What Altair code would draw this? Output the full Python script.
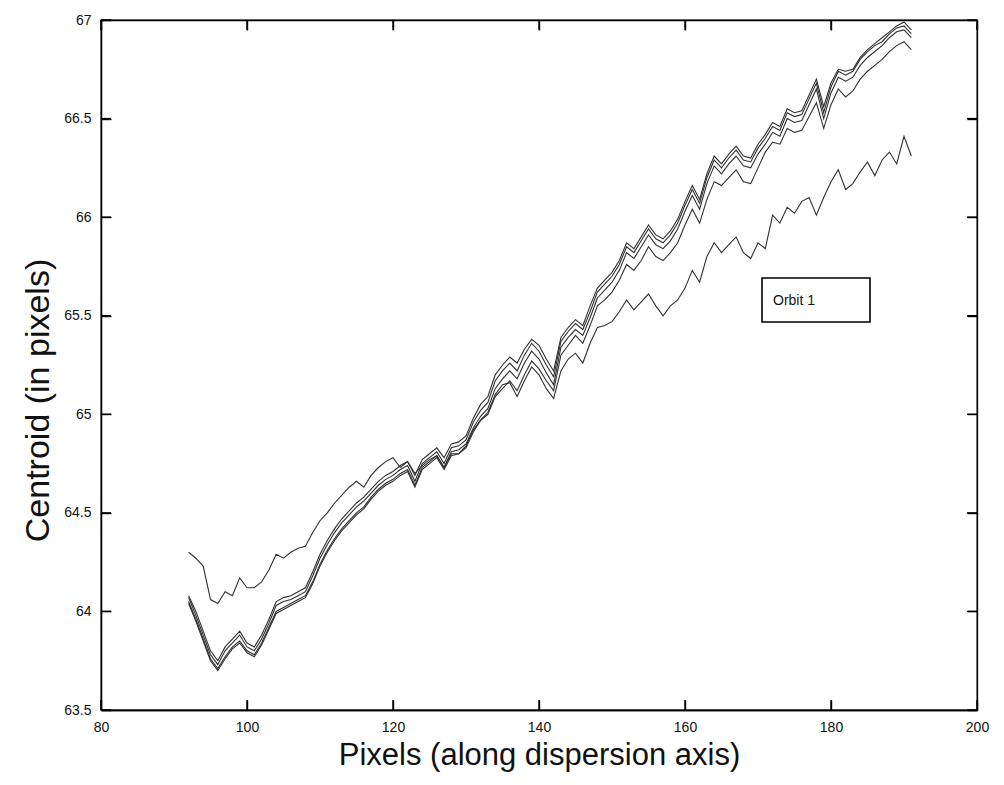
import altair as alt
import pandas as pd

x_vals = list(range(92, 192))

line_top = [
    64.08, 64.00, 63.90, 63.80, 63.75, 63.82, 63.86, 63.90, 63.84, 63.82,
    63.88, 63.96, 64.05, 64.07, 64.08, 64.10, 64.12, 64.20, 64.29, 64.36,
    64.42, 64.47, 64.51, 64.55, 64.58, 64.62, 64.66, 64.69, 64.71, 64.74,
    64.76, 64.69, 64.77, 64.80, 64.83, 64.78, 64.85, 64.86, 64.89, 64.98,
    65.05, 65.09, 65.20, 65.25, 65.29, 65.26, 65.33, 65.38, 65.35, 65.28,
    65.22, 65.39, 65.44, 65.48, 65.45, 65.55, 65.64, 65.68, 65.72, 65.78,
    65.87, 65.84, 65.90, 65.96, 65.91, 65.89, 65.93, 65.99, 66.08, 66.16,
    66.09, 66.22, 66.31, 66.27, 66.32, 66.36, 66.31, 66.30, 66.37, 66.42,
    66.48, 66.46, 66.55, 66.53, 66.54, 66.62, 66.70, 66.56, 66.68, 66.75,
    66.74, 66.75, 66.81, 66.85, 66.88, 66.91, 66.94, 66.97, 66.99, 66.95,
]

line_mid = [
    64.07, 63.98, 63.88, 63.78, 63.73, 63.80, 63.84, 63.88, 63.82, 63.80,
    63.86, 63.94, 64.03, 64.05, 64.06, 64.08, 64.10, 64.18, 64.27, 64.34,
    64.40, 64.45, 64.49, 64.53, 64.56, 64.60, 64.64, 64.67, 64.69, 64.72,
    64.74, 64.66, 64.75, 64.78, 64.81, 64.75, 64.83, 64.84, 64.87, 64.96,
    65.02, 65.06, 65.17, 65.22, 65.26, 65.22, 65.30, 65.36, 65.32, 65.25,
    65.19, 65.37, 65.42, 65.46, 65.43, 65.52, 65.62, 65.66, 65.70, 65.76,
    65.85, 65.82, 65.88, 65.94, 65.89, 65.87, 65.91, 65.97, 66.06, 66.14,
    66.07, 66.20, 66.29, 66.25, 66.30, 66.34, 66.29, 66.28, 66.35, 66.40,
    66.46, 66.44, 66.53, 66.51, 66.52, 66.60, 66.68, 66.53, 66.66, 66.74,
    66.72, 66.74, 66.80, 66.84, 66.87, 66.89, 66.93, 66.96, 66.97, 66.93,
]

line_low = [
    64.05, 63.96, 63.86, 63.76, 63.71, 63.77, 63.82, 63.85, 63.80, 63.78,
    63.84, 63.92, 64.00, 64.02, 64.04, 64.06, 64.08, 64.15, 64.24, 64.31,
    64.37, 64.42, 64.46, 64.50, 64.53, 64.58, 64.62, 64.65, 64.67, 64.70,
    64.72, 64.64, 64.73, 64.76, 64.79, 64.73, 64.81, 64.82, 64.85, 64.93,
    64.99, 65.03, 65.13, 65.18, 65.22, 65.18, 65.26, 65.32, 65.28, 65.21,
    65.15, 65.34, 65.39, 65.43, 65.40, 65.49, 65.59, 65.63, 65.67, 65.73,
    65.82, 65.79, 65.85, 65.91, 65.86, 65.84, 65.88, 65.94, 66.03, 66.11,
    66.04, 66.17, 66.26, 66.22, 66.27, 66.31, 66.26, 66.25, 66.32, 66.37,
    66.43, 66.41, 66.50, 66.48, 66.49, 66.57, 66.65, 66.50, 66.63, 66.71,
    66.69, 66.71, 66.77, 66.81, 66.84, 66.87, 66.91, 66.94, 66.95, 66.91,
]

line_div = [
    64.04, 63.95, 63.85, 63.75, 63.70, 63.76, 63.81, 63.84, 63.79, 63.77,
    63.83, 63.91, 63.99, 64.01, 64.03, 64.05, 64.07, 64.14, 64.23, 64.30,
    64.36, 64.41, 64.45, 64.49, 64.52, 64.57, 64.61, 64.64, 64.66, 64.69,
    64.71, 64.63, 64.72, 64.75, 64.78, 64.72, 64.79, 64.80, 64.83, 64.91,
    64.97, 65.00, 65.09, 65.13, 65.17, 65.12, 65.20, 65.27, 65.23, 65.17,
    65.12, 65.30, 65.35, 65.40, 65.36, 65.45, 65.55, 65.58, 65.62, 65.68,
    65.76, 65.73, 65.78, 65.85, 65.80, 65.78, 65.82, 65.87, 65.96, 66.04,
    65.97, 66.09, 66.18, 66.16, 66.20, 66.24, 66.18, 66.17, 66.25, 66.33,
    66.38, 66.37, 66.45, 66.43, 66.44, 66.51, 66.58, 66.45, 66.57, 66.65,
    66.61, 66.64, 66.70, 66.74, 66.77, 66.80, 66.84, 66.87, 66.89, 66.85,
]

line_out = [
    64.30, 64.27, 64.23, 64.06, 64.04, 64.10, 64.08, 64.17, 64.12, 64.12,
    64.15, 64.21, 64.29, 64.27, 64.30, 64.32, 64.33, 64.40, 64.46, 64.50,
    64.55, 64.59, 64.63, 64.66, 64.63, 64.69, 64.73, 64.76, 64.78, 64.73,
    64.76, 64.70, 64.74, 64.77, 64.79, 64.73, 64.80, 64.80, 64.84, 64.92,
    64.97, 65.01, 65.10, 65.15, 65.16, 65.09, 65.17, 65.24, 65.20, 65.13,
    65.08, 65.22, 65.28, 65.31, 65.26, 65.36, 65.44, 65.45, 65.47, 65.52,
    65.58, 65.53, 65.57, 65.61, 65.55, 65.50, 65.55, 65.58, 65.64, 65.73,
    65.67, 65.80, 65.87, 65.82, 65.86, 65.90, 65.82, 65.79, 65.87, 65.84,
    66.01, 65.97, 66.05, 66.02, 66.08, 66.10, 66.01, 66.10, 66.18, 66.24,
    66.14, 66.17, 66.23, 66.28, 66.21, 66.29, 66.33, 66.27, 66.41, 66.31,
]

series_names = ["s1", "s2", "s3", "s4", "s5"]
series_values = [line_top, line_mid, line_low, line_div, line_out]

x_ticks = [80, 100, 120, 140, 160, 180, 200]
y_ticks = [63.5, 64, 64.5, 65, 65.5, 66, 66.5, 67]
legend_labels = ["Orbit 1"]

rows = []
for name, vals in zip(series_names, series_values):
    for xv, yv in zip(x_vals, vals):
        rows.append({"series": name, "x": xv, "y": yv})
df = pd.DataFrame(rows)

W, H = 876, 690
FONT = "Liberation Sans"
TICK = 10

xs = alt.Scale(domain=[80, 200], nice=False, zero=False)
ys = alt.Scale(domain=[63.5, 67], nice=False, zero=False)

# main axes: labels, titles and the left/bottom frame lines
x_axis = alt.Axis(
    orient="bottom", values=x_ticks, title="Pixels (along dispersion axis)",
    ticks=False, grid=False, labelPadding=10, titlePadding=6, labelFlush=False,
    labelOverlap=False, titleFontSize=31)
y_axis = alt.Axis(
    orient="left", values=y_ticks, format=".1~f", title="Centroid (in pixels)",
    ticks=False, grid=False, labelPadding=10, titlePadding=8, labelFlush=False,
    labelOverlap=False, titleFontSize=34, titleY=380)


def tick_axis(orient, offset, values):
    # an unlabeled axis moved onto the opposite frame edge so that its ticks point inward
    return alt.Axis(orient=orient, offset=offset, values=values, labels=False,
                    title=None, grid=False, domain=True, ticks=True,
                    tickSize=TICK, tickWidth=1.4, tickColor="black")


lines = alt.Chart(df).mark_line(strokeWidth=1.1, color="#303030").encode(
    x=alt.X("x:Q", scale=xs, axis=x_axis),
    y=alt.Y("y:Q", scale=ys, axis=y_axis),
    detail="series:N",
)

yt = pd.DataFrame({"v": y_ticks})
xt = pd.DataFrame({"v": x_ticks})
rule_style = dict(color="black", strokeWidth=1.4)

left_ticks = alt.Chart(yt).mark_rule(**rule_style).encode(
    y=alt.Y("v:Q", scale=ys, axis=tick_axis("right", -W, y_ticks)),
    x=alt.value(0), x2=alt.value(TICK))
right_ticks = alt.Chart(yt).mark_rule(**rule_style).encode(
    y=alt.Y("v:Q", scale=ys, axis=tick_axis("left", -W, y_ticks)),
    x=alt.value(W - TICK), x2=alt.value(W))
bottom_ticks = alt.Chart(xt).mark_rule(**rule_style).encode(
    x=alt.X("v:Q", scale=xs, axis=tick_axis("top", -H, x_ticks)),
    y=alt.value(H - TICK), y2=alt.value(H))
top_ticks = alt.Chart(xt).mark_rule(**rule_style).encode(
    x=alt.X("v:Q", scale=xs, axis=tick_axis("bottom", -H, x_ticks)),
    y=alt.value(0), y2=alt.value(TICK))

leg = pd.DataFrame({"label": legend_labels})
legend_box = alt.Chart(leg).mark_rect(fill="white", stroke="black", strokeWidth=1.6).encode(
    x=alt.value(661), x2=alt.value(769), y=alt.value(258), y2=alt.value(302))
legend_text = alt.Chart(leg).mark_text(
    align="left", baseline="middle", font=FONT, fontSize=14, color="#111").encode(
    x=alt.value(672), y=alt.value(281), text="label:N")

chart = alt.layer(
    lines, left_ticks, right_ticks, bottom_ticks, top_ticks, legend_box, legend_text
).resolve_axis(
    x="independent", y="independent"
).properties(
    width=W, height=H,
    background="white",
    autosize=alt.AutoSizeParams(type="none"),
    padding={"left": 101, "top": 20, "right": 27, "bottom": 75},
).configure_view(
    stroke="black", strokeWidth=1.3
).configure_axis(
    domainColor="black", domainWidth=1.3,
    labelFont=FONT, labelFontSize=14, labelColor="#111",
    titleFont=FONT, titleColor="#111", titleFontWeight="normal",
)

chart.save("out.html", embed_options={"renderer": "svg", "actions": False})
